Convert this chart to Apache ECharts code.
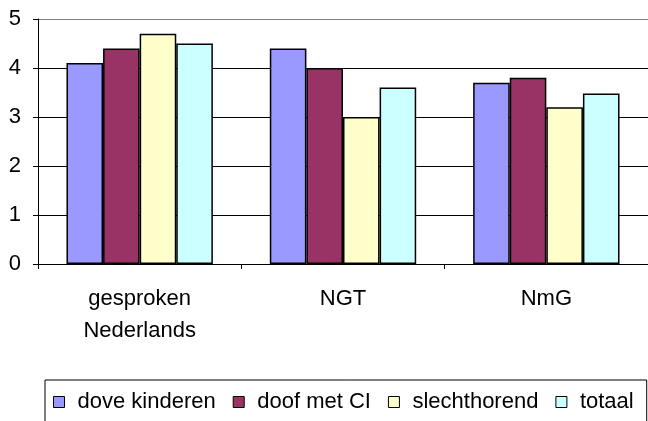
<!DOCTYPE html>
<html>
<head>
<meta charset="utf-8">
<script src="https://cdn.jsdelivr.net/npm/echarts@6/dist/echarts.min.js"></script>
<style>
  html, body { margin: 0; padding: 0; background: #fff; }
  #chart { width: 648px; height: 421px; }
</style>
</head>
<body>
<div id="chart"></div>
<script>
// categorieën en waarden
const categories = ['gesproken\nNederlands', 'NGT', 'NmG']
const seriesNames = ['dove kinderen', 'doof met CI', 'slechthorend', 'totaal']
const doveKinderen = [4.1, 4.4, 3.7]
const doofMetCI = [4.4, 4.0, 3.8]
const slechthorend = [4.7, 3.0, 3.2]
const totaal = [4.5, 3.6, 3.48]
const yTicks = [0, 1, 2, 3, 4, 5]

const colors = ['#9999FF', '#993366', '#FFFFCC', '#CCFFFF']
const values = [doveKinderen, doofMetCI, slechthorend, totaal]
const font = 'Liberation Sans, Arial, sans-serif'

const chart = echarts.init(document.getElementById('chart'))

chart.setOption({
  animation: false,
  textStyle: { fontFamily: font, color: '#000' },
  grid: { left: 38, top: 19, right: -10, bottom: 157, containLabel: false },
  legend: {
    left: 45,
    top: 380,
    padding: [11, 13, 30, 8],
    itemWidth: 11,
    itemHeight: 11,
    itemGap: 17,
    borderColor: '#000',
    borderWidth: 1,
    icon: 'rect',
    itemStyle: { borderColor: '#000', borderWidth: 1 },
    textStyle: { fontFamily: font, fontSize: 22, color: '#000', padding: [0, 0, 0, 8] },
    data: seriesNames
  },
  xAxis: {
    type: 'category',
    data: categories,
    axisLine: { lineStyle: { color: '#000', width: 1 } },
    axisTick: { show: true, length: 5, lineStyle: { color: '#000' } },
    axisLabel: {
      fontFamily: font,
      fontSize: 22,
      color: '#000',
      lineHeight: 32,
      margin: 19
    }
  },
  yAxis: {
    type: 'value',
    min: yTicks[0],
    max: yTicks[yTicks.length - 1],
    interval: 1,
    axisLine: { show: true, lineStyle: { color: '#000', width: 1 } },
    axisTick: { show: true, length: 5, lineStyle: { color: '#000' } },
    axisLabel: { fontFamily: font, fontSize: 22, color: '#000', margin: 17 },
    splitLine: {
      show: true,
      lineStyle: { color: ['#000', '#000', '#000', '#000', '#000', '#808080'], width: 1 }
    }
  },
  series: seriesNames.map((name, i) => ({
    name: name,
    type: 'bar',
    data: values[i],
    barGap: '0%',
    barCategoryGap: '28%',
    itemStyle: { color: colors[i], borderColor: '#000', borderWidth: 1.5 }
  }))
})
</script>
</body>
</html>
